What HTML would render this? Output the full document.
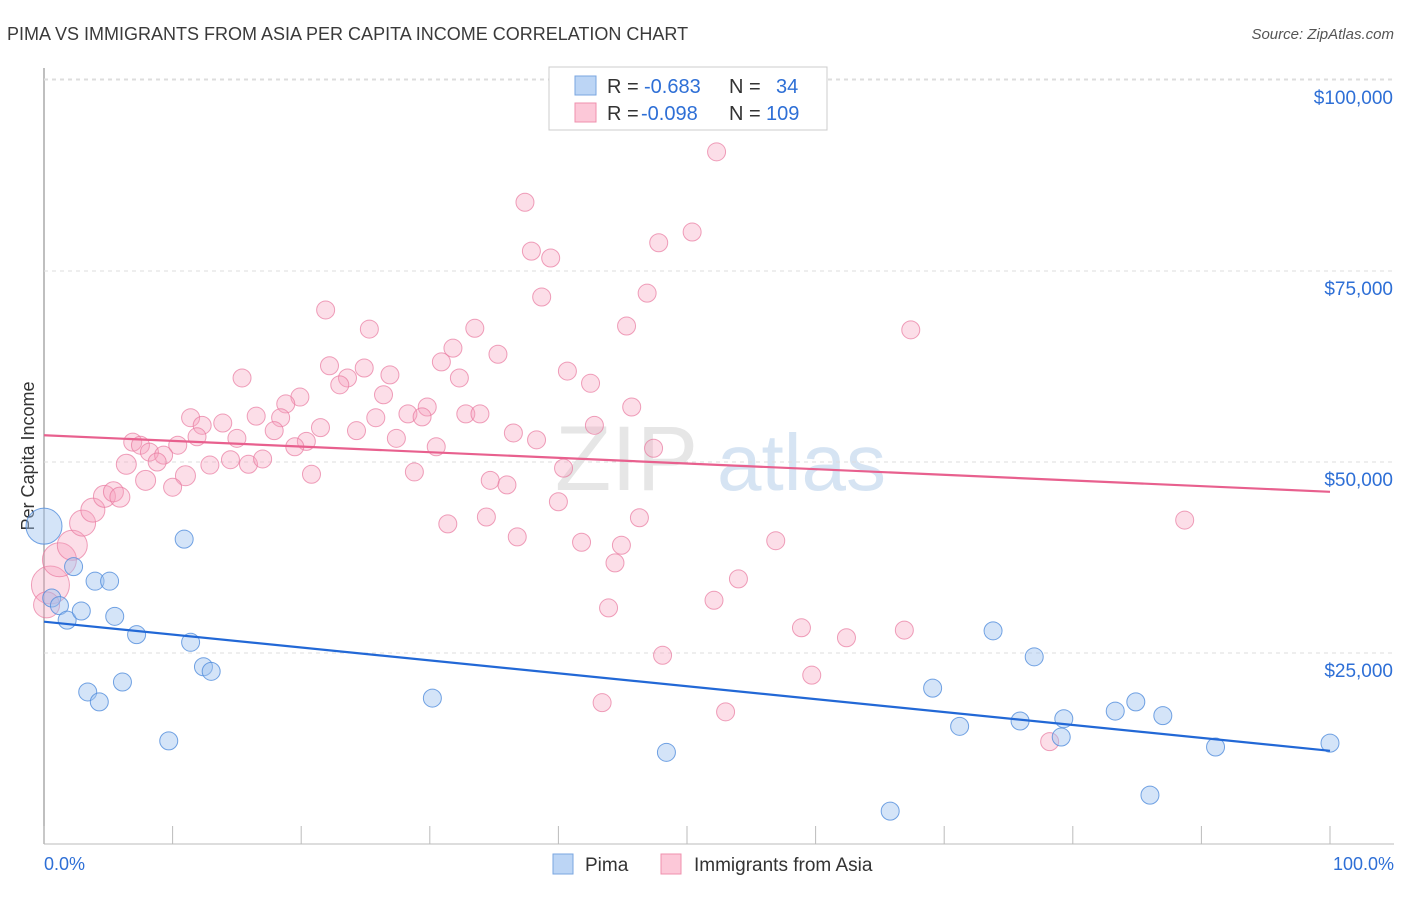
<!DOCTYPE html>
<html><head><meta charset="utf-8"><style>
body{margin:0;background:#fff;font-family:"Liberation Sans",sans-serif}
svg text{font-family:"Liberation Sans",sans-serif}
</style></head><body>
<svg id="c" width="1406" height="892">
<text x="7" y="40" font-size="18" fill="#3a3a3a">PIMA VS IMMIGRANTS FROM ASIA PER CAPITA INCOME CORRELATION CHART</text>
<text x="1394" y="39" font-size="15" fill="#555" font-style="italic" text-anchor="end">Source: ZipAtlas.com</text>
<text x="34" y="456" font-size="18" fill="#333" text-anchor="middle" transform="rotate(-90 34 456)">Per Capita Income</text>
<g id="wm"><text x="555" y="490" font-size="92" font-family="Liberation Serif" fill="#e6e6e6">ZIP</text><text x="717" y="490" font-size="80" fill="#d6e4f3">atlas</text></g>
<g id="grid"></g><g id="pts"></g><g id="trend"></g>
<g>
<rect x="549" y="67" width="278" height="63" fill="#fff" stroke="#ccc"/>
<rect x="575" y="76" width="21" height="19" fill="#bcd5f5" stroke="#7aa6e0"/>
<rect x="575" y="103" width="21" height="19" fill="#fcc8d8" stroke="#ef90ae"/>
<text x="607" y="93" font-size="20" fill="#333">R = <tspan x="644" fill="#2e6fd6">-0.683</tspan><tspan x="729">N = </tspan><tspan x="776" fill="#2e6fd6">34</tspan></text>
<text x="607" y="120" font-size="20" fill="#333">R = <tspan x="641" fill="#2e6fd6">-0.098</tspan><tspan x="729">N = </tspan><tspan x="766" fill="#2e6fd6">109</tspan></text>
</g>
<g>
<rect x="553" y="854" width="20" height="20" fill="#bcd5f5" stroke="#7aa6e0"/>
<text x="585" y="871" font-size="19" fill="#333">Pima</text>
<rect x="661" y="854" width="20" height="20" fill="#fcc8d8" stroke="#ef90ae"/>
<text x="694" y="871" font-size="19" fill="#333">Immigrants from Asia</text>
</g>
<text x="44" y="870" font-size="18" fill="#2e6fd6">0.0%</text>
<text x="1394" y="870" font-size="18" fill="#2e6fd6" text-anchor="end">100.0%</text>
</svg>
<script>
const yTicks=[25000,50000,75000,100000];
const yTickLabels=["$25,000","$50,000","$75,000","$100,000"];
const xTicks=[0,10,20,30,40,50,60,70,80,90,100];
const pimaX=[0,0.6,1.2,1.8,2.3,2.9,3.4,3.97,4.3,5.1,5.5,6.1,7.2,9.7,10.9,11.4,12.4,13.0,30.2,48.4,65.8,69.1,71.2,73.8,75.9,77.0,79.3,79.1,83.3,84.9,86.0,87.0,91.1,100];
const pimaY=[41.6,32.2,31.2,29.3,36.3,30.5,19.9,34.4,18.6,34.4,29.8,21.2,27.4,13.5,39.9,26.4,23.2,22.6,19.1,12.0,4.3,20.4,15.4,27.9,16.1,24.5,16.4,14.0,17.4,18.6,6.4,16.8,12.7,13.2];
const pimaR=[18,9,9,9,9,9,9,9,9,9,9,9,9,9,9,9,9,9,9,9,9,9,9,9,9,9,9,9,9,9,9,9,9,9];
const asiaX=[52.3,37.4,37.9,39.4,47.8,50.4,38.7,46.9,21.9,25.3,33.5,45.3,67.4,31.8,35.3,22.2,24.9,23.6,23.0,15.4,26.9,30.9,32.3,40.7,42.5,19.9,18.8,26.4,28.3,29.8,32.8,33.9,25.8,29.4,45.7,11.4,12.3,13.9,16.5,18.4,21.5,24.3,27.4,36.5,38.3,42.8,47.4,15.0,17.9,20.4,19.5,6.9,7.5,10.4,11.9,8.2,9.3,8.8,6.4,12.9,14.5,15.9,17.0,20.8,28.8,30.5,40.4,7.9,11.0,10.0,34.7,36.0,40.0,31.4,34.4,36.8,46.3,41.8,44.9,44.4,54.0,56.9,88.7,43.9,52.1,58.9,62.4,66.9,48.1,59.7,43.4,53.0,78.2,0.5,1.2,2.2,3.0,3.8,4.7,5.4,5.9,0.2];
const asiaY=[90.6,84.0,77.6,76.7,78.7,80.1,71.6,72.1,69.9,67.4,67.5,67.8,67.3,64.9,64.1,62.6,62.3,61.0,60.1,61.0,61.4,63.1,61.0,61.9,60.3,58.5,57.6,58.8,56.3,57.2,56.3,56.3,55.8,55.9,57.2,55.8,54.8,55.1,56.0,55.8,54.5,54.1,53.1,53.8,52.9,54.8,51.8,53.1,54.1,52.7,52.0,52.6,52.2,52.2,53.3,51.3,50.9,50.0,49.7,49.6,50.3,49.7,50.4,48.4,48.7,52.0,49.2,47.6,48.2,46.7,47.6,47.0,44.8,41.9,42.8,40.2,42.7,39.5,39.1,36.8,34.7,39.7,42.4,30.9,31.9,28.3,27.0,28.0,24.7,22.1,18.5,17.3,13.4,33.9,37.2,39.1,42.0,43.7,45.5,46.1,45.4,31.3];
const asiaR=[9,9,9,9,9,9,9,9,9,9,9,9,9,9,9,9,9,9,9,9,9,9,9,9,9,9,9,9,9,9,9,9,9,9,9,9,9,9,9,9,9,9,9,9,9,9,9,9,9,9,9,9,9,9,9,9,9,9,10,9,9,9,9,9,9,9,9,10,10,9,9,9,9,9,9,9,9,9,9,9,9,9,9,9,9,9,9,9,9,9,9,9,9,19,17,15,13,12,11,10,10,13];
const pimaTrend=[29.1,12.2];
const asiaTrend=[53.5,46.1];
const sx=v=>44+v*12.86;
const sy=v=>844-v*7.64; // v in thousands
const NS="http://www.w3.org/2000/svg";
function mk(t,a,p){const e=document.createElementNS(NS,t);for(const k in a)e.setAttribute(k,a[k]);p.appendChild(e);return e;}
const grid=document.getElementById('grid');
let ax=mk('line',{x1:44,y1:68,x2:44,y2:844,stroke:'#aaa','stroke-width':1.5},grid);


let bx=mk('line',{x1:44,y1:844,x2:1394,y2:844,stroke:'#bbb'},grid);


yTicks.forEach((t,i)=>{const y=sy(t/1000);
 const g=mk('line',{x1:44,y1:y,x2:1394,y2:y,stroke:'#ddd','stroke-dasharray':'4,4'},grid);
 
 
 const tx=mk('text',{x:1393,y:y+24,'font-size':19,fill:'#2e6fd6','text-anchor':'end'},grid);
 tx.textContent=yTickLabels[i];
 
 });
{const g=mk('line',{x1:44,y1:79,x2:1394,y2:79,stroke:'#ddd','stroke-dasharray':'4,4'},grid);
 
 }
xTicks.forEach(t=>{const x=sx(t);const l=mk('line',{x1:x,y1:826,x2:x,y2:844,stroke:'#bbb'},grid);
 
 });
const pts=document.getElementById('pts');
asiaX.forEach((v,i)=>{const c=mk('circle',{cx:sx(v),cy:sy(asiaY[i]),r:asiaR[i],fill:'rgba(246,160,188,0.35)',stroke:'rgba(232,120,158,0.7)','stroke-width':1},pts);
 
 });
pimaX.forEach((v,i)=>{const c=mk('circle',{cx:sx(v),cy:sy(pimaY[i]),r:pimaR[i],fill:'rgba(160,196,240,0.45)',stroke:'rgba(80,140,220,0.8)','stroke-width':1},pts);
 
 });
const tr=document.getElementById('trend');
let t1=mk('line',{x1:sx(0),y1:sy(asiaTrend[0]),x2:sx(100),y2:sy(asiaTrend[1]),stroke:'#e8608e','stroke-width':2.2},tr);


let t2=mk('line',{x1:sx(0),y1:sy(pimaTrend[0]),x2:sx(100),y2:sy(pimaTrend[1]),stroke:'#2268d6','stroke-width':2.2},tr);


</script>
</body></html>
